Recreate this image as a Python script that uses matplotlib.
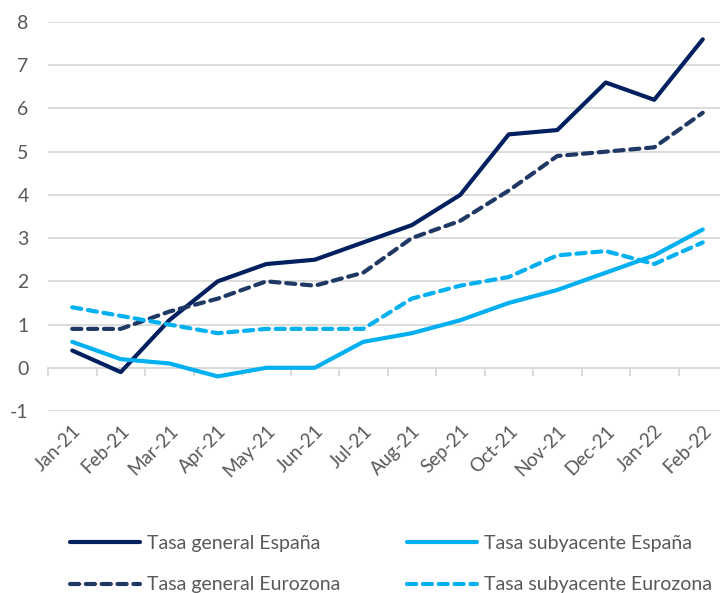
import matplotlib
matplotlib.use("Agg")
import matplotlib.pyplot as plt
import numpy as np

plt.rcParams['font.family'] = ['Lato', 'DejaVu Sans']
plt.rcParams['axes.unicode_minus'] = False

meses = ['Jan-21', 'Feb-21', 'Mar-21', 'Apr-21', 'May-21', 'Jun-21', 'Jul-21',
         'Aug-21', 'Sep-21', 'Oct-21', 'Nov-21', 'Dec-21', 'Jan-22', 'Feb-22']

general_esp = [0.4, -0.1, 1.1, 2.0, 2.4, 2.5, 2.9, 3.3, 4.0, 5.4, 5.5, 6.6, 6.2, 7.6]
subyac_esp = [0.6, 0.2, 0.1, -0.2, 0.0, 0.0, 0.6, 0.8, 1.1, 1.5, 1.8, 2.2, 2.6, 3.2]
general_ez = [0.9, 0.9, 1.3, 1.6, 2.0, 1.9, 2.2, 3.0, 3.4, 4.1, 4.9, 5.0, 5.1, 5.9]
subyac_ez = [1.4, 1.2, 1.0, 0.8, 0.9, 0.9, 0.9, 1.6, 1.9, 2.1, 2.6, 2.7, 2.4, 2.9]

txt = '#595959'
grid = '#D9D9D9'

fig = plt.figure(figsize=(7.2, 5.93), dpi=100)
ax = fig.add_axes([48/720, 182/593, 679/720, 389/593])

x = np.arange(len(meses))
lw = 3.0
l1, = ax.plot(x, general_esp, color='#002060', lw=lw, solid_capstyle='round',
              label='Tasa general España')
l2, = ax.plot(x, subyac_esp, color='#00B0F0', lw=lw, solid_capstyle='round',
              label='Tasa subyacente España')
l3, = ax.plot(x, general_ez, color='#1F3864', lw=lw, ls=(0, (2.2, 1.6)),
              dash_capstyle='round', label='Tasa general Eurozona')
l4, = ax.plot(x, subyac_ez, color='#00B0F0', lw=lw, ls=(0, (2.2, 1.6)),
              dash_capstyle='round', label='Tasa subyacente Eurozona')

ax.set_xlim(-0.5, len(meses) - 0.5)
ax.set_ylim(-1, 8)
ax.set_yticks(range(-1, 9))
ax.yaxis.grid(True, color=grid, lw=1.3)
ax.set_axisbelow(True)
for s in ax.spines.values():
    s.set_visible(False)

ax.set_xticks(x)
ax.set_xticklabels(meses, rotation=45, ha='right', rotation_mode='anchor')
ax.tick_params(axis='x', length=0, pad=8, labelsize=13.5, labelcolor=txt)
ax.tick_params(axis='y', length=0, pad=14, labelsize=14, labelcolor=txt)

# zero line with category tick marks
sec = ax.secondary_xaxis(1/9)
sec.set_xticks(np.arange(-0.5, len(meses), 1.0))
sec.set_xticklabels([])
sec.tick_params(axis='x', direction='out', length=6, width=1.3, color=grid)
sec.spines['bottom'].set_color(grid)
sec.spines['bottom'].set_linewidth(1.3)

fig.legend([l1, l3, l2, l4], [l.get_label() for l in (l1, l3, l2, l4)],
           loc='upper left', bbox_to_anchor=(70/720, 1 - 535/593), ncol=2,
           frameon=False, fontsize=14, labelcolor=txt, handlelength=3.6,
           handletextpad=0.35, columnspacing=3.45, labelspacing=1.25,
           borderpad=0, borderaxespad=0)

fig.savefig('out.png', dpi=100)
